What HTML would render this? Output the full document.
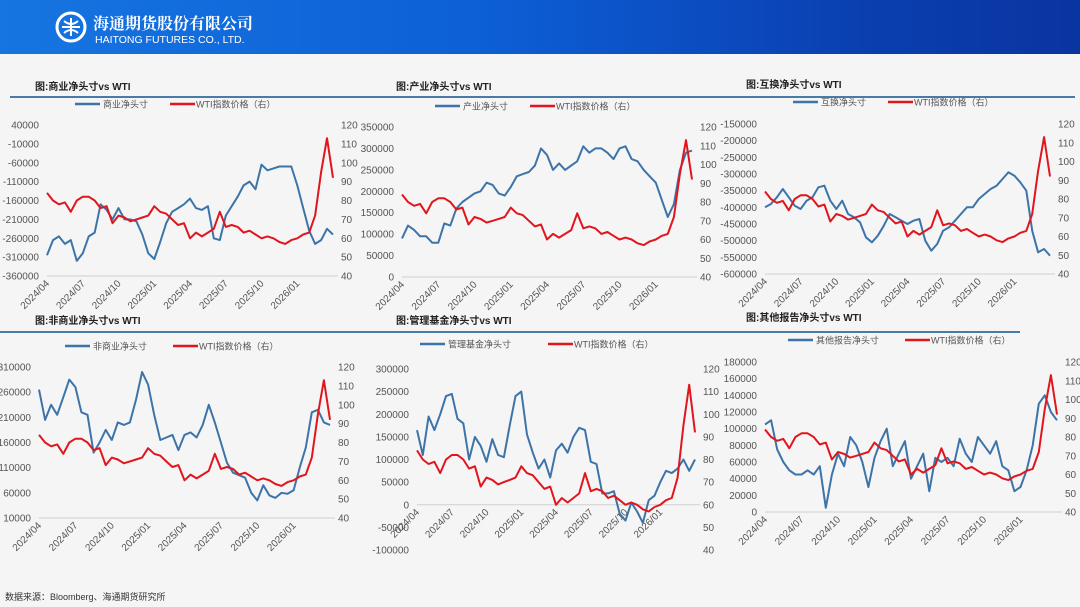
<!DOCTYPE html>
<html><head><meta charset="utf-8">
<style>
html,body{margin:0;padding:0;width:1080px;height:607px;overflow:hidden;background:#f5f5f6;}
#hdr{position:absolute;left:0;top:0;width:1080px;height:54px;background:linear-gradient(90deg,#1675e0 0%,#0d5fd6 45%,#0a3fb0 80%,#0a34a0 100%);}
svg{position:absolute;left:0;top:0;}
text{font-family:"Liberation Sans","Noto Sans CJK SC",sans-serif;}
</style></head>
<body>
<div id="hdr"></div>
<svg id="s" width="1080" height="607">
  <g>
    <circle cx="71" cy="27" r="14" fill="none" stroke="#fff" stroke-width="3"/>
    <path d="M62 27 H80 M71 18 V36 M64 21 Q71 27 78 21 M64 33 Q71 27 78 33" stroke="#fff" stroke-width="2" fill="none"/>
  </g>
  <text x="93" y="29" font-size="16" font-weight="bold" fill="#fff" style="font-family:'Liberation Sans','Noto Serif CJK SC',serif">海通期货股份有限公司</text>
  <text x="95" y="43" font-size="10.5" fill="#fff">HAITONG FUTURES CO., LTD.</text>
  <line x1="10" y1="97" x2="1075" y2="97" stroke="#4a7aa8" stroke-width="2"/>
  <line x1="0" y1="332" x2="1020" y2="332" stroke="#4a7aa8" stroke-width="2"/>
  <text x="5" y="600" font-size="9" fill="#333">数据来源：Bloomberg、海通期货研究所</text>
</svg>
<script>
// shared x categories: half-month steps from 2024/04
const xTickLabels = ["2024/04","2024/07","2024/10","2025/01","2025/04","2025/07","2025/10","2026/01"];
const wti = [84,80,78,79,74,80,82,82,80,76,77,68,72,71,69,70,71,72,77,74,73,70,67,68,60,63,61,63,65,74,66,67,66,63,64,62,60,61,60,58,57,59,60,62,63,72,95,113,92];
const rightTicks = [40,50,60,70,80,90,100,110,120];
// net positions (thousands of contracts)
const commercial = [-305,-265,-255,-275,-265,-320,-300,-255,-245,-170,-185,-210,-180,-210,-210,-215,-250,-300,-315,-270,-220,-190,-180,-170,-155,-180,-185,-175,-260,-265,-200,-175,-150,-120,-110,-130,-65,-80,-75,-70,-70,-70,-120,-180,-240,-275,-265,-235,-250];
const producer = [90,120,110,95,95,80,80,125,120,160,175,185,195,200,220,215,195,190,210,235,240,245,260,300,285,250,265,250,260,270,305,290,300,300,290,275,300,305,275,270,250,235,220,180,140,170,250,290,295];
const swap = [-400,-390,-370,-345,-370,-395,-405,-380,-370,-340,-335,-380,-405,-380,-420,-430,-445,-490,-505,-485,-455,-420,-430,-440,-450,-440,-435,-500,-530,-510,-470,-460,-440,-420,-400,-400,-375,-360,-345,-335,-315,-295,-305,-325,-350,-470,-535,-525,-545];
const noncommercial = [265,205,235,215,250,285,270,220,215,140,160,185,165,200,195,200,245,300,275,215,165,170,175,145,175,180,170,195,235,200,160,120,100,95,90,60,45,75,55,50,60,58,65,110,150,220,225,200,195];
const managedMoney = [165,110,195,165,200,240,245,190,180,100,150,130,95,145,110,105,175,240,250,155,115,80,100,60,120,135,115,150,170,165,95,90,25,25,30,-20,-35,5,-15,-40,10,20,50,75,70,80,100,75,100];
const otherReport = [105,110,75,60,50,45,45,50,45,55,5,45,70,55,90,80,60,30,65,85,100,55,70,85,40,55,70,25,65,60,65,55,88,70,60,90,80,70,85,55,50,25,30,50,80,130,140,120,110];
const ticks1 = [40000,-10000,-60000,-110000,-160000,-210000,-260000,-310000,-360000];
const ticks2 = [0,50000,100000,150000,200000,250000,300000,350000];
const ticks3 = [-150000,-200000,-250000,-300000,-350000,-400000,-450000,-500000,-550000,-600000];
const ticks4 = [10000,60000,110000,160000,210000,260000,310000];
const ticks5 = [-100000,-50000,0,50000,100000,150000,200000,250000,300000];
const ticks6 = [0,20000,40000,60000,80000,100000,120000,140000,160000,180000];

const panels = [
 {key:"commercial",title:"图:商业净头寸vs WTI",name:"商业净头寸",series:commercial,ticks:ticks1,min:-360000,max:40000,x0:47,x1:333,yt:125,yb:276,tx:35,ty:90,lx:75,ly:104,rx:170,axis:null},
 {key:"producer",title:"图:产业净头寸vs WTI",name:"产业净头寸",series:producer,ticks:ticks2,min:0,max:350000,x0:402,x1:692,yt:127,yb:277,tx:396,ty:90,lx:435,ly:106,rx:530,axis:null},
 {key:"swap",title:"图:互换净头寸vs WTI",name:"互换净头寸",series:swap,ticks:ticks3,min:-600000,max:-150000,x0:765,x1:1050,yt:124,yb:274,tx:746,ty:88,lx:793,ly:102,rx:888,axis:null},
 {key:"noncommercial",title:"图:非商业净头寸vs WTI",name:"非商业净头寸",series:noncommercial,ticks:ticks4,min:10000,max:310000,x0:39,x1:330,yt:367,yb:518,tx:35,ty:324,lx:65,ly:346,rx:173,axis:null},
 {key:"managed-money",title:"图:管理基金净头寸vs WTI",name:"管理基金净头寸",series:managedMoney,ticks:ticks5,min:-100000,max:300000,x0:417,x1:695,yt:369,yb:550,tx:396,ty:324,lx:420,ly:344,rx:548,axis:0},
 {key:"other-reportable",title:"图:其他报告净头寸vs WTI",name:"其他报告净头寸",series:otherReport,ticks:ticks6,min:0,max:180000,x0:765,x1:1057,yt:362,yb:512,tx:746,ty:321,lx:788,ly:340,rx:905,axis:null}
];
const NS="http://www.w3.org/2000/svg";
const svg=document.getElementById("s");
function mk(tag,attrs,parent){const e=document.createElementNS(NS,tag);for(const k in attrs)e.setAttribute(k,attrs[k]);(parent||svg).appendChild(e);return e;}
const BLUE="#3d74a8",RED="#e0151d";
panels.forEach(p=>{
  const g=mk("g",{});
  
  
  const n=wti.length;
  const xs=i=>p.x0+i/(n-1)*(p.x1-p.x0);
  const yL=v=>p.yb-(v-p.min)/(p.max-p.min)*(p.yb-p.yt);
  const yR=v=>p.yb-(v-40)/(120-40)*(p.yb-p.yt);
  const t=mk("text",{x:p.tx,y:p.ty,"font-size":"10","font-weight":"bold",fill:"#222"},g);t.textContent=p.title;
  
  
  const lb=mk("line",{x1:p.lx,y1:p.ly,x2:p.lx+25,y2:p.ly,stroke:BLUE,"stroke-width":"2.5"},g);
  
  
  const lt=mk("text",{x:p.lx+28,y:p.ly+3.5,"font-size":"9",fill:"#555"},g);lt.textContent=p.name;
  
  
  const lr=mk("line",{x1:p.rx,y1:p.ly,x2:p.rx+25,y2:p.ly,stroke:RED,"stroke-width":"2.5"},g);
  
  
  const lrt=mk("text",{x:p.rx+26,y:p.ly+3.5,"font-size":"9",fill:"#555"},g);lrt.textContent="WTI指数价格（右）";
  
  
  const ay=p.axis===null?p.yb:yL(p.axis);
  const ax=mk("line",{x1:p.x0,y1:ay,x2:p.x1+5,y2:ay,stroke:"#d0d0d0","stroke-width":"1"},g);
  
  
  p.ticks.forEach(v=>{
    const e=mk("text",{x:p.x0-8,y:yL(v)+3.5,"font-size":"10",fill:"#555","text-anchor":"end"},g);e.textContent=String(v);
    
    
  });
  rightTicks.forEach(v=>{
    const e=mk("text",{x:p.x1+8,y:yR(v)+3.5,"font-size":"10",fill:"#555"},g);e.textContent=String(v);
    
    
  });
  xTickLabels.forEach((lab,k)=>{
    const x=xs(k*6),y=ay+8;
    const e=mk("text",{x:x+3,y:y,"font-size":"10",fill:"#555","text-anchor":"end",transform:`rotate(-45 ${x+3} ${y})`},g);e.textContent=lab;
    
    
  });
  const pb=mk("polyline",{points:p.series.map((v,i)=>xs(i).toFixed(1)+","+yL(v*1000).toFixed(1)).join(" "),fill:"none",stroke:BLUE,"stroke-width":"2","stroke-linejoin":"round"},g);
  
  
  const pr=mk("polyline",{points:wti.map((v,i)=>xs(i).toFixed(1)+","+yR(v).toFixed(1)).join(" "),fill:"none",stroke:RED,"stroke-width":"2","stroke-linejoin":"round"},g);
  
  
});
</script>
</body></html>
